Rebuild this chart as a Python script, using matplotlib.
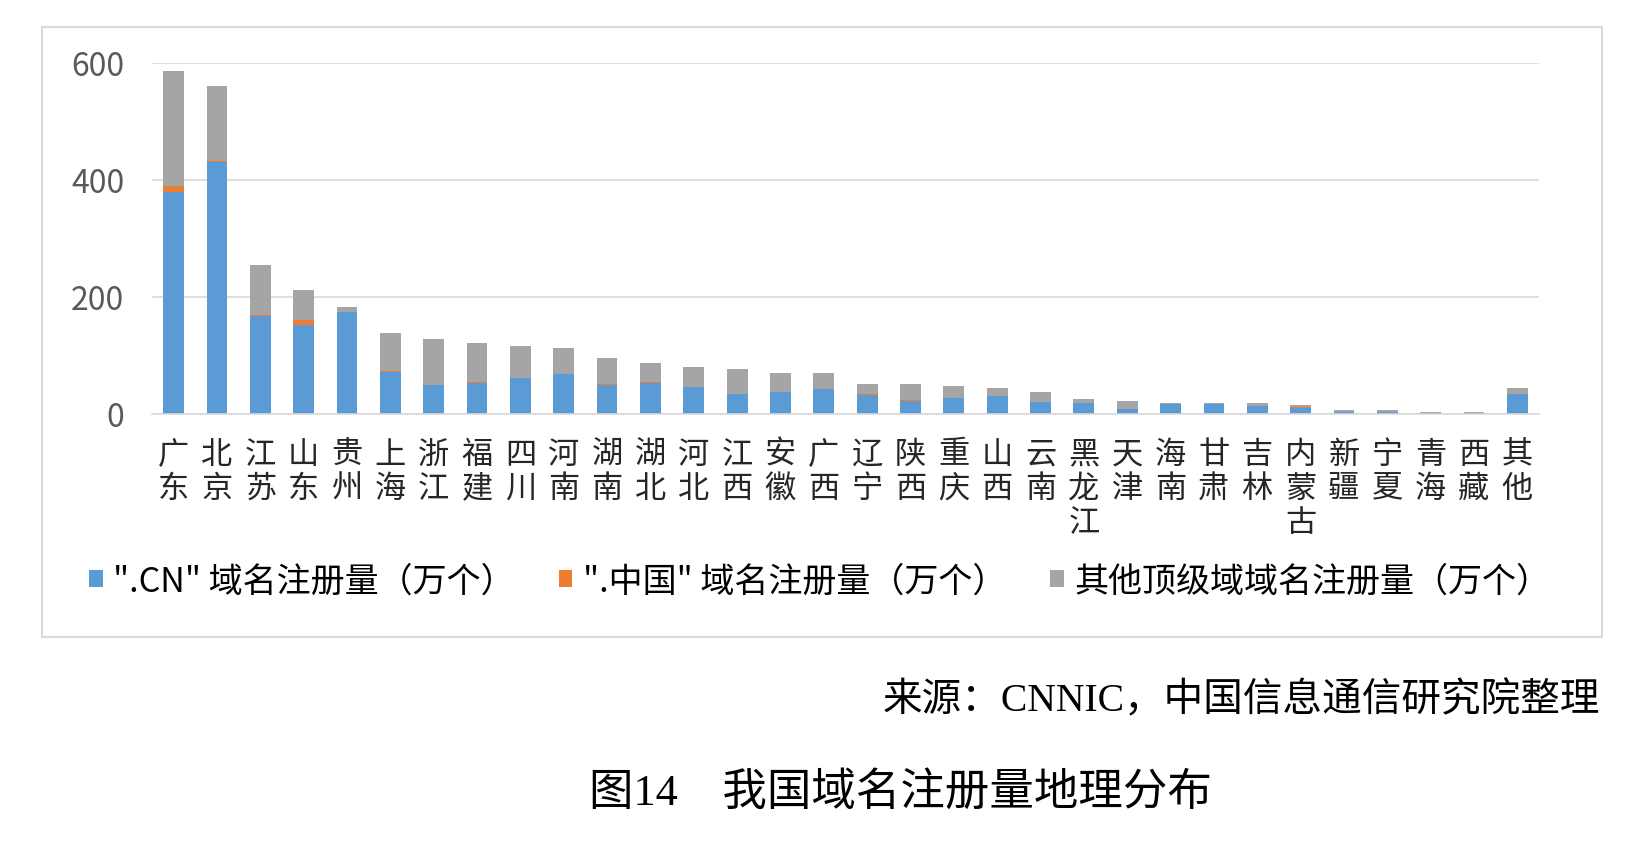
import matplotlib.pyplot as plt
from matplotlib.patches import Rectangle

plt.rcParams['font.family'] = ['Noto Sans CJK SC', 'DejaVu Sans']

# 省份 / 地区
regions = ['广东', '北京', '江苏', '山东', '贵州', '上海', '浙江', '福建', '四川', '河南',
           '湖南', '湖北', '河北', '江西', '安徽', '广西', '辽宁', '陕西', '重庆', '山西',
           '云南', '黑龙江', '天津', '海南', '甘肃', '吉林', '内蒙古', '新疆', '宁夏', '青海',
           '西藏', '其他']
# 万个
cn = [379, 431, 168, 152, 174, 72, 49, 53, 61, 68,
      50, 53, 46, 34, 37, 43, 33, 23, 27, 31,
      20, 19, 9, 17, 17, 14, 11, 3, 3, 1,
      1, 34]
zhongguo = [10, 1, 2, 8, 1, 2, 1, 1, 1, 1,
            1, 1, 0.5, 0.5, 0.5, 0.5, 0.5, 0.5, 0.5, 0.5,
            0.5, 0.3, 0.3, 0.2, 0.2, 0.2, 0.2, 0.1, 0.1, 0.1,
            0.1, 0.5]
other_tld = [197, 128, 85, 52, 8, 65, 78, 67, 55, 44,
             44, 33, 33.5, 42.5, 32.5, 26.5, 17.5, 27.5, 20.5, 12.5,
             16.5, 5.7, 12.7, 1.8, 1.8, 4.8, 3.8, 3.9, 3.9, 2.9,
             2.9, 9.5]
yticks = [0, 200, 400, 600]
legend_labels = ['".CN" 域名注册量（万个）', '".中国" 域名注册量（万个）', '其他顶级域域名注册量（万个）']

c_blue, c_orange, c_gray = '#5B9BD5', '#ED7D31', '#A5A5A5'

fig = plt.figure(figsize=(16.39, 8.45), dpi=100)
ax = fig.add_axes([0.0927, 0.5089, 0.8463, 0.4154])

x = range(len(regions))
w = 0.48
b1 = ax.bar(x, cn, w, color=c_blue, label=legend_labels[0])
b2 = ax.bar(x, zhongguo, w, bottom=cn, color=c_orange, label=legend_labels[1])
bottom2 = [a + b for a, b in zip(cn, zhongguo)]
b3 = ax.bar(x, other_tld, w, bottom=bottom2, color=c_gray, label=legend_labels[2])

ax.set_xlim(-0.5, len(regions) - 0.5)
ax.set_ylim(0, 600)
ax.set_yticks(yticks)
ax.set_yticklabels([str(v) for v in yticks], fontsize=23, color='#595959')
ax.set_xticks(list(x))
ax.set_xticklabels(['\n'.join(r) for r in regions], fontsize=22.5, color='#262626',
                   linespacing=1.08, va='top')
ax.tick_params(length=0)
ax.tick_params(axis='y', pad=20)
ax.tick_params(axis='x', pad=17)
ax.grid(axis='y', color='#D9D9D9', linewidth=1.2)
ax.set_axisbelow(True)
for s in ['top', 'right', 'left']:
    ax.spines[s].set_visible(False)
ax.spines['bottom'].set_color('#D9D9D9')
ax.spines['bottom'].set_linewidth(1.2)

fig.legend(handles=[b1, b2, b3], loc='center', bbox_to_anchor=(0.5, 0.311),
           ncol=3, frameon=False, fontsize=24.5, handlelength=0.4, handleheight=0.4,
           handletextpad=0.3, columnspacing=1.3)

# 图表外框
fig.patches.append(Rectangle((42 / 1639, 1 - 638 / 845), 1560 / 1639, 610 / 845,
                             transform=fig.transFigure, fill=False,
                             edgecolor='#D9D9D9', linewidth=1.5))

fig.text(1600 / 1639, 1 - 701 / 845, '来源：CNNIC，中国信息通信研究院整理',
         ha='right', va='center', fontsize=28.5,
         family=['Liberation Serif', 'Noto Sans CJK SC'], fontweight='light')
fig.text(900 / 1639, 1 - 793 / 845, '图14　我国域名注册量地理分布',
         ha='center', va='center', fontsize=32,
         family=['Liberation Serif', 'Noto Sans CJK SC'], fontweight='light')

fig.savefig('out.png', dpi=100, facecolor='white')
